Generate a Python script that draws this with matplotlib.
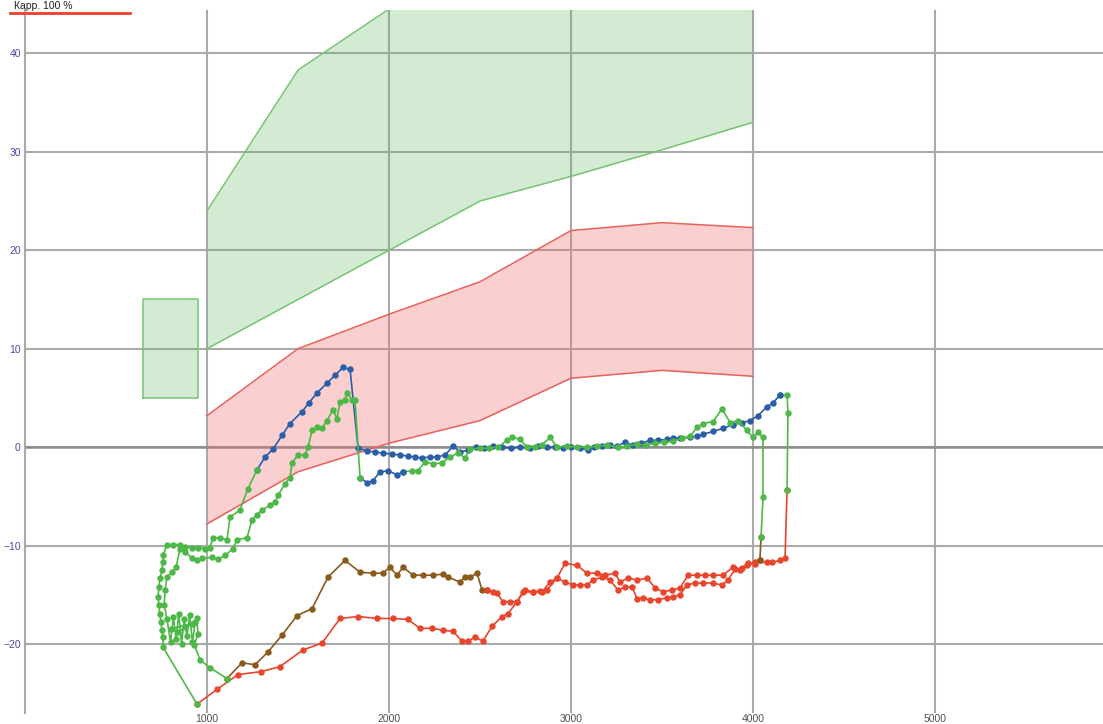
import matplotlib.pyplot as plt
from matplotlib.lines import Line2D

plt.rcParams['font.family'] = ['Liberation Sans', 'DejaVu Sans']

# tolerance bands (x = rpm-like axis)
BAND_X = [1000, 1500, 2000, 2500, 3000, 3500, 4000]
GREEN_LO = [10, 15, 20, 25, 27.5, 30.2, 33]
GREEN_HI = [24, 38.3, 44.5, 47, 48, 49, 50]
RED_LO = [-7.8, -2.5, 0.4, 2.7, 7.0, 7.8, 7.2]
RED_HI = [3.2, 10, 13.5, 16.8, 22, 22.8, 22.3]

RECT_X = [650, 950]
RECT_Y = [5, 15]

# outer loop
OUTER_RED_X = [945, 1055, 1170, 1297, 1400, 1527, 1632, 1731, 1830, 1934, 2022, 2104, 2170, 2236,
               2297, 2352, 2401, 2434, 2473, 2516, 2566, 2621, 2654, 2703, 2736, 2791, 2830, 2868,
               2923, 2967, 3033, 3088, 3143, 3187, 3242, 3269, 3313, 3363, 3418, 3462, 3505, 3555,
               3599, 3643, 3692, 3736, 3780, 3835, 3890, 3929, 3967, 4011, 4077, 4104, 4148, 4176, 4187]
OUTER_RED_Y = [-26.1, -24.6, -23.1, -22.8, -22.3, -20.6, -19.9, -17.4, -17.2, -17.4, -17.4, -17.5,
               -18.4, -18.4, -18.6, -18.7, -19.7, -19.7, -19.3, -19.7, -18.2, -17.2, -16.9, -15.7,
               -14.7, -14.7, -14.6, -14.5, -13.3, -11.8, -12.0, -12.8, -12.8, -13.0, -12.8, -13.7,
               -13.3, -13.5, -13.3, -14.3, -14.7, -14.5, -14.3, -13.0, -13.0, -13.0, -13.0, -13.0,
               -12.2, -12.5, -12.0, -11.7, -11.7, -11.7, -11.5, -11.3, -4.4]

OUTER_GREEN_R_X = [4187, 4192, 4187, 4148]
OUTER_GREEN_R_Y = [-4.4, 3.5, 5.3, 5.3]

OUTER_BLUE_X = [4148, 4110, 4077, 4027, 3984, 3940, 3890, 3835, 3780, 3725, 3692, 3654, 3599, 3560,
                3527, 3478, 3434, 3385, 3341, 3297, 3253, 3214, 3170, 3126, 3093, 3049, 3000, 2956,
                2912, 2868, 2820, 2775, 2720, 2670, 2620, 2570, 2520, 2478, 2434, 2390, 2352, 2308,
                2264, 2225, 2181, 2143, 2104, 2060, 2016, 1967, 1923, 1879, 1830, 1786, 1747, 1703,
                1659, 1604, 1560, 1522, 1456, 1412, 1363, 1319, 1275]
OUTER_BLUE_Y = [5.3, 4.5, 4.1, 3.2, 2.7, 2.5, 2.3, 1.9, 1.6, 1.3, 1.1, 1.0, 0.9, 0.9, 0.8, 0.7, 0.7,
                0.4, 0.2, 0.5, 0.1, 0.2, 0.1, 0.0, -0.3, -0.1, 0.0, -0.1, 0.0, 0.0, 0.1, -0.1, 0.0,
                -0.1, 0.0, 0.1, -0.1, 0.0, -0.3, -0.5, 0.1, -0.8, -1.0, -1.0, -1.1, -1.0, -0.9, -0.8,
                -0.7, -0.6, -0.5, -0.4, -0.1, 7.9, 8.1, 7.3, 6.5, 5.5, 4.5, 3.6, 2.4, 1.2, -0.2, -1.0, -2.3]

OUTER_GREEN_L_X = [1275, 1225, 1181, 1126, 1110, 1071, 1033, 1016, 989, 951, 918, 879, 852, 813, 780,
                   758, 758, 753, 742, 736, 731, 736, 740, 747, 753, 758, 758, 945]
OUTER_GREEN_L_Y = [-2.3, -4.2, -6.4, -7.1, -9.4, -9.2, -9.2, -10.2, -10.3, -10.2, -10.2, -10.1, -9.9,
                   -9.9, -9.9, -11.0, -11.7, -12.5, -13.3, -14.2, -15.2, -16.0, -16.9, -17.8, -18.6,
                   -19.3, -20.3, -26.1]

# inner loop
INNER_BROWN_X = [1110, 1192, 1264, 1335, 1412, 1495, 1577, 1665, 1758, 1841, 1912, 1967, 2005, 2044,
                 2077, 2132, 2187, 2242, 2297, 2324, 2390, 2418, 2445, 2484, 2511, 2538]
INNER_BROWN_Y = [-23.5, -21.9, -22.1, -20.8, -19.1, -17.1, -16.4, -13.2, -11.5, -12.7, -12.8, -12.8,
                 -12.2, -13.0, -12.2, -13.0, -13.0, -13.0, -12.9, -13.2, -13.7, -13.2, -13.2, -12.8,
                 -14.5, -14.5]

INNER_RED_X = [2538, 2571, 2593, 2626, 2665, 2703, 2747, 2791, 2841, 2885, 2923, 2967, 3011, 3049,
               3088, 3121, 3170, 3214, 3258, 3297, 3335, 3363, 3396, 3434, 3478, 3527, 3560, 3599,
               3637, 3681, 3725, 3780, 3830, 3863, 3901, 3940, 3973, 4011, 4038]
INNER_RED_Y = [-14.5, -14.7, -14.8, -15.7, -15.7, -15.7, -14.5, -14.7, -14.7, -13.7, -13.3, -13.7,
               -14.0, -14.0, -14.0, -13.5, -13.2, -13.5, -14.5, -14.2, -14.2, -15.4, -15.3, -15.5,
               -15.5, -15.3, -15.2, -15.0, -14.0, -13.8, -13.8, -13.8, -14.0, -13.5, -12.4, -12.3,
               -11.8, -11.9, -11.5]

INNER_BROWN_R_X = [4038, 4044]
INNER_BROWN_R_Y = [-11.5, -9.1]

INNER_GREEN_A_X = [4044, 4055, 4055, 4027, 4000, 3967, 3918, 3874, 3830, 3780, 3725, 3692, 3654,
                   3610, 3560, 3510, 3460, 3410, 3360, 3310, 3260, 3200, 3143, 3090, 3033, 2980,
                   2923, 2885, 2840, 2800, 2758, 2720, 2676, 2648, 2600, 2550, 2500, 2445, 2418,
                   2379, 2335, 2291, 2242, 2198, 2159, 2126, 2077]
INNER_GREEN_A_Y = [-9.1, -5.1, 1.0, 1.5, 1.0, 1.7, 2.7, 2.5, 3.9, 2.6, 2.4, 2.0, 1.1, 0.9, 0.6, 0.5,
                   0.4, 0.2, 0.3, 0.1, 0.0, 0.2, 0.1, 0.0, 0.0, 0.1, 0.0, 1.0, 0.2, 0.0, 0.0, 0.8,
                   1.0, 0.7, 0.0, -0.1, -0.1, -0.2, -1.1, -0.6, -1.0, -1.6, -1.7, -1.5, -2.4, -2.4, -2.5]

INNER_BLUE_X = [2077, 2044, 1995, 1951, 1912, 1879, 1841]
INNER_BLUE_Y = [-2.5, -2.8, -2.4, -2.5, -3.4, -3.6, -3.1]

INNER_GREEN_B_X = [1841, 1813, 1797, 1769, 1758, 1731, 1714, 1692, 1659, 1632, 1604, 1577, 1555,
                   1538, 1500, 1467, 1456, 1429, 1390, 1374, 1346, 1302, 1275, 1247, 1220, 1165,
                   1143, 1100, 1060, 1027, 973, 945, 918, 880, 852, 830, 808, 780, 770, 765,
                   780, 800, 815, 830, 845, 860, 875, 890, 905, 920, 935, 800, 840, 880, 920, 945,
                   950, 930, 962, 1016, 1110]
INNER_GREEN_B_Y = [-3.1, 4.8, 4.8, 5.5, 4.8, 4.6, 2.9, 3.8, 2.7, 1.9, 2.0, 1.7, 0.0, -0.8, -0.8,
                   -1.6, -3.1, -3.7, -4.9, -5.6, -5.9, -6.4, -6.9, -7.4, -9.2, -9.4, -10.3, -11.0,
                   -11.4, -11.2, -11.3, -11.5, -11.3, -10.6, -10.3, -12.2, -12.7, -13.2, -14.5,
                   -16.0, -17.5, -19.8, -17.2, -19.5, -16.9, -20.0, -17.5, -19.2, -17.0, -19.8,
                   -17.8, -18.5, -18.8, -18.3, -18.0, -17.4, -19.0, -20.1, -21.6, -22.4, -23.5]

GREEN = '#4db848'
BLUE = '#2b5ea8'
RED = '#e8452c'
BROWN = '#8a5a1c'

fig = plt.figure(figsize=(11.03, 7.24), dpi=100)
ax = fig.add_axes([25 / 1103, 11 / 724, 1 - 25 / 1103, 703 / 724])
ax.set_xlim(0, 5923)
ax.set_ylim(-27.0, 44.4)

# bands
ax.fill_between(BAND_X, GREEN_LO, GREEN_HI, color='#5cb85c', alpha=0.27, lw=0, zorder=2)
ax.plot(BAND_X, GREEN_LO, color='#78c473', lw=1.1, zorder=3)
ax.plot(BAND_X, GREEN_HI, color='#78c473', lw=1.1, zorder=3)
ax.fill_between(BAND_X, RED_LO, RED_HI, color='#f07070', alpha=0.33, lw=0, zorder=2)
ax.plot(BAND_X, RED_LO, color='#e8615a', lw=1.1, zorder=3)
ax.plot(BAND_X, RED_HI, color='#e8615a', lw=1.1, zorder=3)
ax.fill_between(RECT_X, RECT_Y[0], RECT_Y[1], color='#5cb85c', alpha=0.27, lw=0, zorder=2)
ax.plot([RECT_X[0], RECT_X[1], RECT_X[1], RECT_X[0], RECT_X[0]],
        [RECT_Y[0], RECT_Y[0], RECT_Y[1], RECT_Y[1], RECT_Y[0]], color='#78c473', lw=1.1, zorder=3)

segments = [
    (OUTER_RED_X, OUTER_RED_Y, RED),
    (OUTER_GREEN_R_X, OUTER_GREEN_R_Y, GREEN),
    (OUTER_BLUE_X, OUTER_BLUE_Y, BLUE),
    (OUTER_GREEN_L_X, OUTER_GREEN_L_Y, GREEN),
    (INNER_BROWN_X, INNER_BROWN_Y, BROWN),
    (INNER_RED_X, INNER_RED_Y, RED),
    (INNER_BROWN_R_X, INNER_BROWN_R_Y, BROWN),
    (INNER_GREEN_A_X, INNER_GREEN_A_Y, GREEN),
    (INNER_BLUE_X, INNER_BLUE_Y, BLUE),
    (INNER_GREEN_B_X, INNER_GREEN_B_Y, GREEN),
]
for xs, ys, c in segments:
    ax.plot(xs, ys, color=c, lw=1.2, marker='o', ms=3.6, mec=c, mfc=c, zorder=4)

# grid
ax.set_xticks([1000, 2000, 3000, 4000, 5000])
ax.set_yticks([-20, -10, 0, 10, 20, 30, 40])
ax.grid(True, color='#aaaaaa', lw=1.5, zorder=1)
ax.set_axisbelow(True)
ax.axhline(0, color='#8c8c8c', lw=1.8, zorder=1)
for s in ['top', 'right', 'bottom']:
    ax.spines[s].set_visible(False)
ax.spines['left'].set_color('#aaaaaa')
ax.spines['left'].set_linewidth(1.5)
ax.tick_params(length=0)
ax.tick_params(axis='y', colors='#4a4aa0', labelsize=7.5, pad=3)
ax.tick_params(axis='x', colors='#505050', labelsize=7.5, pad=1)

# header with red underline
fig.text(14 / 1103, 1 - 1 / 724, 'Карр. 100 %', fontsize=7.5, color='#202020', va='top', ha='left')
fig.add_artist(Line2D([10 / 1103, 130 / 1103], [1 - 13 / 724, 1 - 13 / 724], color='#e8402a', lw=2.0))

fig.savefig('out.png', dpi=100)
